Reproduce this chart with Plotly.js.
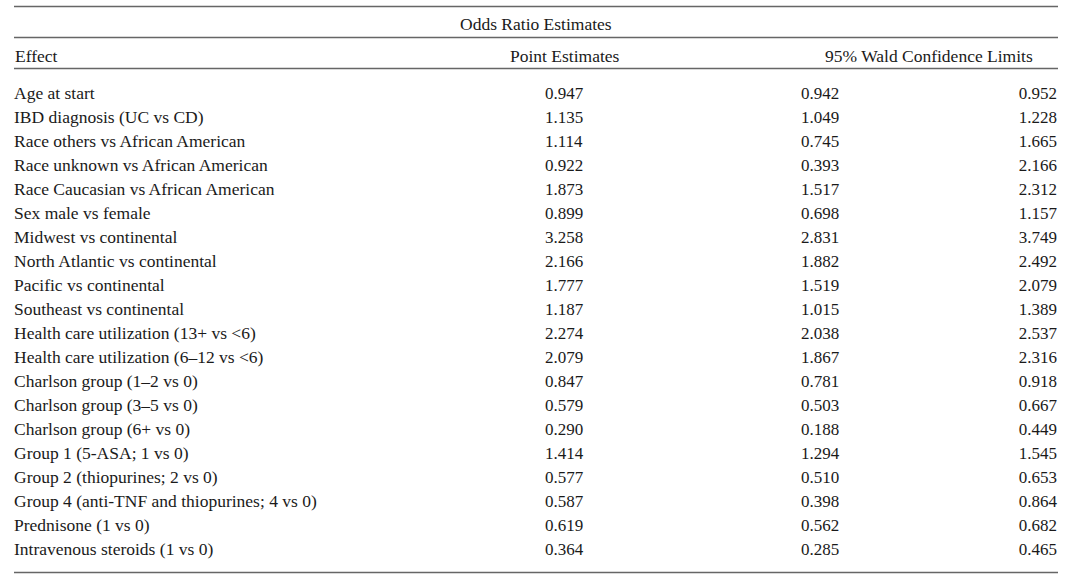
<!DOCTYPE html>
<html>
<head>
<meta charset="utf-8">
<script src="https://cdn.plot.ly/plotly-3.0.1.min.js"></script>
<style>
html, body { margin: 0; padding: 0; background: #ffffff; }
#chart { width: 1073px; height: 580px; }
</style>
</head>
<body>
<div id="chart"></div>
<script>
// ---- Data ----
var effects = [
  "Age at start",
  "IBD diagnosis (UC vs CD)",
  "Race others vs African American",
  "Race unknown vs African American",
  "Race Caucasian vs African American",
  "Sex male vs female",
  "Midwest vs continental",
  "North Atlantic vs continental",
  "Pacific vs continental",
  "Southeast vs continental",
  "Health care utilization (13+ vs <6)",
  "Health care utilization (6\u201312 vs <6)",
  "Charlson group (1\u20132 vs 0)",
  "Charlson group (3\u20135 vs 0)",
  "Charlson group (6+ vs 0)",
  "Group 1 (5-ASA; 1 vs 0)",
  "Group 2 (thiopurines; 2 vs 0)",
  "Group 4 (anti-TNF and thiopurines; 4 vs 0)",
  "Prednisone (1 vs 0)",
  "Intravenous steroids (1 vs 0)"
];
var pointEstimates = [0.947, 1.135, 1.114, 0.922, 1.873, 0.899, 3.258, 2.166, 1.777, 1.187,
                      2.274, 2.079, 0.847, 0.579, 0.290, 1.414, 0.577, 0.587, 0.619, 0.364];
var lowerLimits = [0.942, 1.049, 0.745, 0.393, 1.517, 0.698, 2.831, 1.882, 1.519, 1.015,
                   2.038, 1.867, 0.781, 0.503, 0.188, 1.294, 0.510, 0.398, 0.562, 0.285];
var upperLimits = [0.952, 1.228, 1.665, 2.166, 2.312, 1.157, 3.749, 2.492, 2.079, 1.389,
                   2.537, 2.316, 0.918, 0.667, 0.449, 1.545, 0.653, 0.864, 0.682, 0.465];
var tableTitle = "Odds Ratio Estimates";
var headerEffect = "Effect";
var headerPoint = "Point Estimates";
var headerCI = "95% Wald Confidence Limits";

// ---- Layout constants ----
var W = 1073, H = 580;
var rowTop = 95, rowStep = 24;            // pixel centre of first row, row spacing
function rowOf(px) { return (px - rowTop) / rowStep; }
var FONT = "Liberation Serif, Times New Roman, serif";
var FS_TXT = 17.5;
var FS_NUM = 17;
var TXT = "#1a1a1a";
var LINE = "#666666";

var rows = effects.map(function (_, i) { return i; });
function fmt(v) { return v.toFixed(3); }

function textCol(xpos, texts, pos, fs) {
  return {
    type: "scatter", mode: "text",
    x: rows.map(function () { return xpos; }),
    y: rows, text: texts, textposition: pos,
    marker: { size: 0 },
    textfont: { family: FONT, size: fs, color: TXT },
    hoverinfo: "skip", showlegend: false, cliponaxis: false
  };
}

var traces = [
  textCol(14, effects, "middle right", FS_TXT),
  textCol(545, pointEstimates.map(fmt), "middle right", FS_NUM),
  textCol(801, lowerLimits.map(fmt), "middle right", FS_NUM),
  textCol(1057, upperLimits.map(fmt), "middle left", FS_NUM)
];

function hline(px, x0, x1) {
  return { type: "line", xref: "x", yref: "paper", x0: x0, x1: x1,
           y0: 1 - px / H, y1: 1 - px / H, line: { color: LINE, width: 1.6 } };
}

function hdr(text, x, px, anchor) {
  return { text: text, x: x, y: rowOf(px), xref: "x", yref: "y",
           xanchor: anchor, yanchor: "middle", showarrow: false,
           font: { family: FONT, size: FS_TXT, color: TXT }, borderpad: 0 };
}

var layout = {
  width: W, height: H,
  margin: { l: 0, r: 0, t: 0, b: 0, pad: 0 },
  paper_bgcolor: "#ffffff", plot_bgcolor: "#ffffff",
  xaxis: { range: [0, W], visible: false, fixedrange: true },
  yaxis: { range: [rowOf(H), rowOf(0)], visible: false, fixedrange: true },
  showlegend: false,
  shapes: [
    hline(6.5, 14, 1058),
    hline(37.5, 14, 1058),
    hline(68.5, 14, 1058),
    hline(572.5, 14, 1058)
  ],
  annotations: [
    hdr(tableTitle, 536, 24, "center"),
    hdr(headerEffect, 14, 56, "left"),
    hdr(headerPoint, 565, 56, "center"),
    hdr(headerCI, 929, 56, "center")
  ]
};

Plotly.newPlot("chart", traces, layout, { displayModeBar: false, staticPlot: true });
</script>
</body>
</html>
